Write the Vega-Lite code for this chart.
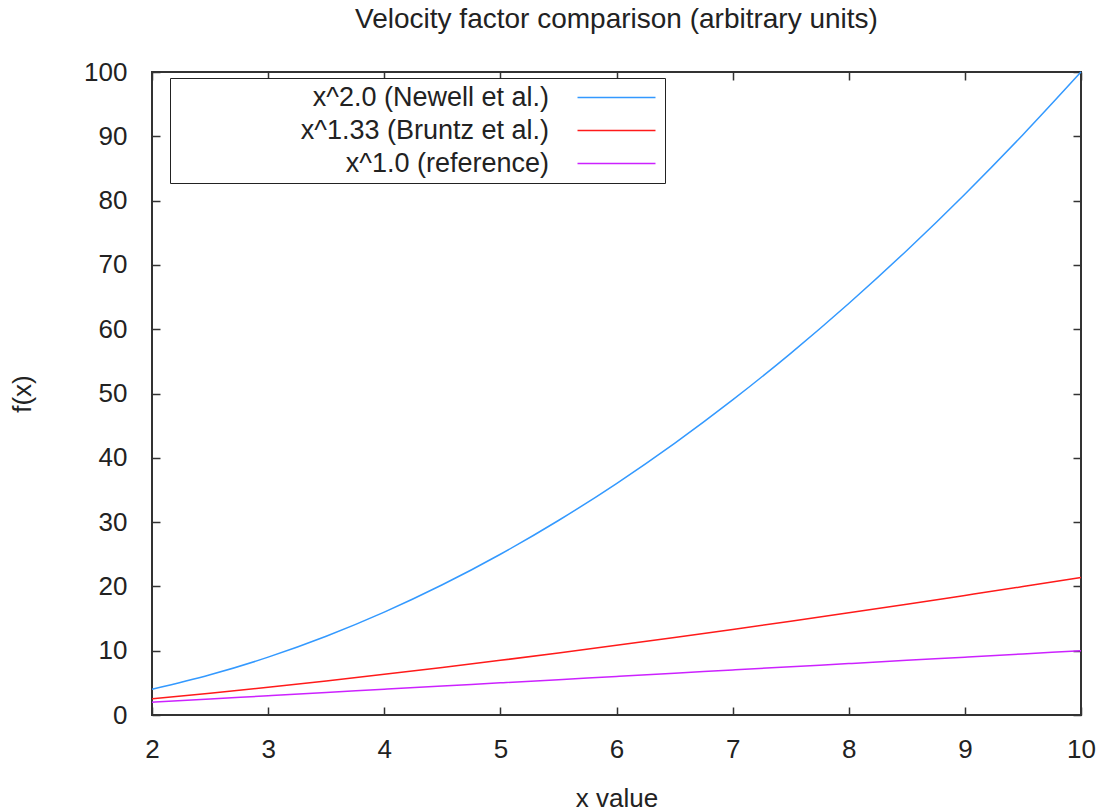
{
  "$schema": "https://vega.github.io/schema/vega-lite/v6.json",
  "width": 929,
  "height": 643,
  "autosize": "none",
  "padding": {"left": 152, "top": 72, "right": 20, "bottom": 97},
  "background": "white",
  "title": {
    "text": "Velocity factor comparison (arbitrary units)",
    "font": "Liberation Sans",
    "fontSize": 28,
    "fontWeight": "normal",
    "color": "#222222",
    "anchor": "middle",
    "offset": 25
  },
  "config": {
    "view": {"stroke": "#333333", "strokeWidth": 2},
    "font": "Liberation Sans",
    "axis": {
      "grid": false,
      "domain": false,
      "tickColor": "#333333",
      "tickWidth": 1.5,
      "tickSize": -8,
      "labelFont": "Liberation Sans",
      "labelFontSize": 26,
      "labelColor": "#222222",
      "titleFont": "Liberation Sans",
      "titleFontSize": 26,
      "titleFontWeight": "normal",
      "titleColor": "#222222"
    }
  },
  "data": {
    "values": [
      {"x": 2, "series": "x^2.0 (Newell et al.)", "y": 4},
      {"x": 2.5, "series": "x^2.0 (Newell et al.)", "y": 6.25},
      {"x": 3, "series": "x^2.0 (Newell et al.)", "y": 9},
      {"x": 3.5, "series": "x^2.0 (Newell et al.)", "y": 12.25},
      {"x": 4, "series": "x^2.0 (Newell et al.)", "y": 16},
      {"x": 4.5, "series": "x^2.0 (Newell et al.)", "y": 20.25},
      {"x": 5, "series": "x^2.0 (Newell et al.)", "y": 25},
      {"x": 5.5, "series": "x^2.0 (Newell et al.)", "y": 30.25},
      {"x": 6, "series": "x^2.0 (Newell et al.)", "y": 36},
      {"x": 6.5, "series": "x^2.0 (Newell et al.)", "y": 42.25},
      {"x": 7, "series": "x^2.0 (Newell et al.)", "y": 49},
      {"x": 7.5, "series": "x^2.0 (Newell et al.)", "y": 56.25},
      {"x": 8, "series": "x^2.0 (Newell et al.)", "y": 64},
      {"x": 8.5, "series": "x^2.0 (Newell et al.)", "y": 72.25},
      {"x": 9, "series": "x^2.0 (Newell et al.)", "y": 81},
      {"x": 9.5, "series": "x^2.0 (Newell et al.)", "y": 90.25},
      {"x": 10, "series": "x^2.0 (Newell et al.)", "y": 100},
      {"x": 2, "series": "x^1.33 (Bruntz et al.)", "y": 2.51},
      {"x": 2.5, "series": "x^1.33 (Bruntz et al.)", "y": 3.38},
      {"x": 3, "series": "x^1.33 (Bruntz et al.)", "y": 4.31},
      {"x": 3.5, "series": "x^1.33 (Bruntz et al.)", "y": 5.29},
      {"x": 4, "series": "x^1.33 (Bruntz et al.)", "y": 6.32},
      {"x": 4.5, "series": "x^1.33 (Bruntz et al.)", "y": 7.39},
      {"x": 5, "series": "x^1.33 (Bruntz et al.)", "y": 8.5},
      {"x": 5.5, "series": "x^1.33 (Bruntz et al.)", "y": 9.65},
      {"x": 6, "series": "x^1.33 (Bruntz et al.)", "y": 10.84},
      {"x": 6.5, "series": "x^1.33 (Bruntz et al.)", "y": 12.06},
      {"x": 7, "series": "x^1.33 (Bruntz et al.)", "y": 13.3},
      {"x": 7.5, "series": "x^1.33 (Bruntz et al.)", "y": 14.58},
      {"x": 8, "series": "x^1.33 (Bruntz et al.)", "y": 15.89},
      {"x": 8.5, "series": "x^1.33 (Bruntz et al.)", "y": 17.22},
      {"x": 9, "series": "x^1.33 (Bruntz et al.)", "y": 18.59},
      {"x": 9.5, "series": "x^1.33 (Bruntz et al.)", "y": 19.97},
      {"x": 10, "series": "x^1.33 (Bruntz et al.)", "y": 21.38},
      {"x": 2, "series": "x^1.0 (reference)", "y": 2},
      {"x": 2.5, "series": "x^1.0 (reference)", "y": 2.5},
      {"x": 3, "series": "x^1.0 (reference)", "y": 3},
      {"x": 3.5, "series": "x^1.0 (reference)", "y": 3.5},
      {"x": 4, "series": "x^1.0 (reference)", "y": 4},
      {"x": 4.5, "series": "x^1.0 (reference)", "y": 4.5},
      {"x": 5, "series": "x^1.0 (reference)", "y": 5},
      {"x": 5.5, "series": "x^1.0 (reference)", "y": 5.5},
      {"x": 6, "series": "x^1.0 (reference)", "y": 6},
      {"x": 6.5, "series": "x^1.0 (reference)", "y": 6.5},
      {"x": 7, "series": "x^1.0 (reference)", "y": 7},
      {"x": 7.5, "series": "x^1.0 (reference)", "y": 7.5},
      {"x": 8, "series": "x^1.0 (reference)", "y": 8},
      {"x": 8.5, "series": "x^1.0 (reference)", "y": 8.5},
      {"x": 9, "series": "x^1.0 (reference)", "y": 9},
      {"x": 9.5, "series": "x^1.0 (reference)", "y": 9.5},
      {"x": 10, "series": "x^1.0 (reference)", "y": 10}
    ]
  },
  "resolve": {"axis": {"x": "independent", "y": "independent"}},
  "layer": [
    {
      "mark": {"type": "line", "strokeWidth": 1.5, "interpolate": "monotone"},
      "encoding": {
        "x": {
          "field": "x", "type": "quantitative",
          "scale": {"domain": [2, 10], "nice": false, "zero": false},
          "axis": {"values": [2, 3, 4, 5, 6, 7, 8, 9, 10], "title": "x value", "labelPadding": 29, "titlePadding": 23, "labelFlush": false}
        },
        "y": {
          "field": "y", "type": "quantitative",
          "scale": {"domain": [0, 100], "nice": false},
          "axis": {"values": [0, 10, 20, 30, 40, 50, 60, 70, 80, 90, 100], "title": "f(x)", "labelPadding": 33, "titlePadding": 48}
        },
        "color": {
          "field": "series", "type": "nominal",
          "sort": ["x^2.0 (Newell et al.)", "x^1.33 (Bruntz et al.)", "x^1.0 (reference)"],
          "scale": {
            "domain": ["x^2.0 (Newell et al.)", "x^1.33 (Bruntz et al.)", "x^1.0 (reference)"],
            "range": ["#3399ff", "#ff1a1a", "#cc22ff"]
          },
          "legend": {
            "title": null,
            "orient": "none",
            "legendX": 18,
            "legendY": 6,
            "strokeColor": "#222222",
            "fillColor": "white",
            "padding": 6,
            "symbolType": "M-4,0H4",
            "symbolSize": 380,
            "symbolStrokeWidth": 1.5,
            "symbolOffset": 427,
            "labelFont": "Liberation Sans",
            "labelFontSize": 27,
            "labelColor": "#222222",
            "labelAlign": "right",
            "labelOffset": -81,
            "labelLimit": 500,
            "rowPadding": 5
          }
        }
      }
    },
    {
      "mark": {"type": "point", "opacity": 0},
      "encoding": {
        "x": {
          "field": "x", "type": "quantitative",
          "axis": {"orient": "top", "values": [2, 3, 4, 5, 6, 7, 8, 9, 10], "labels": false, "title": null}
        },
        "y": {
          "field": "y", "type": "quantitative",
          "axis": {"orient": "right", "values": [0, 10, 20, 30, 40, 50, 60, 70, 80, 90, 100], "labels": false, "title": null}
        }
      }
    }
  ]
}
